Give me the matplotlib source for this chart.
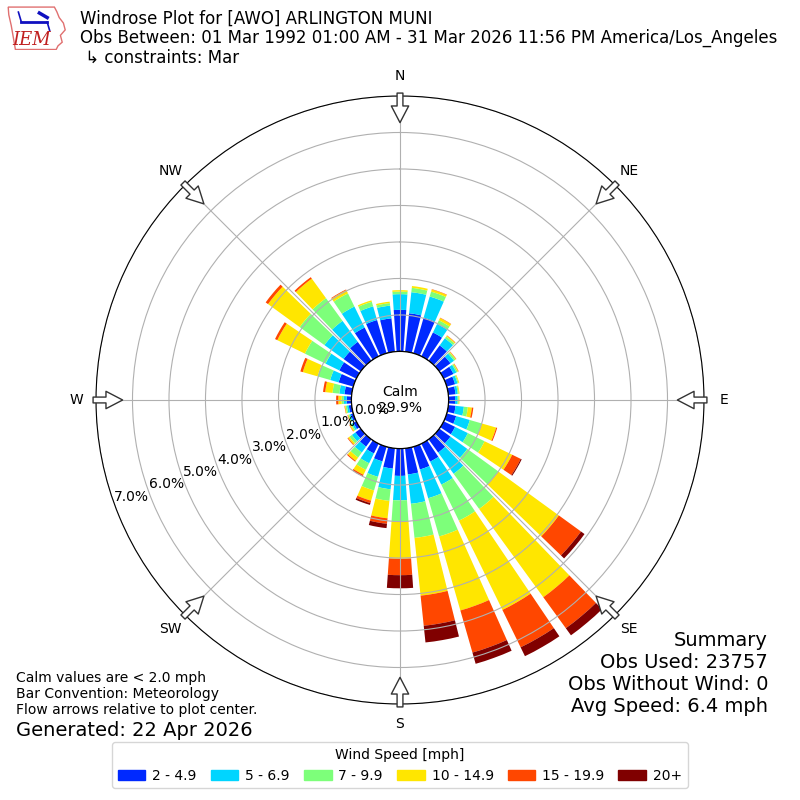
import numpy as np
import matplotlib
matplotlib.use("Agg")
import matplotlib.pyplot as plt
from matplotlib.patches import Patch, Polygon

# direction bins (degrees, meteorological convention)
directions = np.arange(0, 360, 10)
compass = ["N", "NE", "E", "SE", "S", "SW", "W", "NW"]
speed_labels = ["2 - 4.9", "5 - 6.9", "7 - 9.9", "10 - 14.9", "15 - 19.9", "20+"]

# percent of observations per direction, one list per speed bin
pct_2_5 = [1.14, 1.06, 1.02, 0.73, 0.52, 0.38, 0.30, 0.24, 0.20, 0.18,
           0.20, 0.27, 0.35, 0.38, 0.45, 0.55, 0.65, 0.72, 0.75, 0.56,
           0.42, 0.30, 0.25, 0.18, 0.09, 0.07, 0.08, 0.13, 0.20, 0.42,
           0.52, 0.58, 0.64, 0.88, 0.95, 0.92]
pct_5_7 = [0.43, 0.58, 0.60, 0.26, 0.24, 0.12, 0.09, 0.07, 0.06, 0.07,
           0.23, 0.39, 0.39, 0.57, 0.72, 0.70, 0.82, 0.81, 0.67, 0.57,
           0.44, 0.30, 0.20, 0.12, 0.05, 0.04, 0.05, 0.08, 0.14, 0.24,
           0.42, 0.65, 0.71, 0.64, 0.39, 0.35]
pct_7_10 = [0.07, 0.12, 0.14, 0.11, 0.06, 0.05, 0.04, 0.03, 0.03, 0.03,
            0.11, 0.34, 0.51, 1.05, 1.19, 1.10, 1.09, 0.94, 0.58, 0.32,
            0.39, 0.20, 0.17, 0.08, 0.04, 0.03, 0.04, 0.06, 0.19, 0.36,
            0.63, 0.84, 0.77, 0.40, 0.13, 0.07]
pct_10_15 = [0.04, 0.05, 0.06, 0.07, 0.03, 0.02, 0.02, 0.02, 0.02, 0.02,
             0.11, 0.41, 0.84, 2.05, 2.99, 2.72, 2.11, 1.59, 1.02, 0.48,
             0.29, 0.15, 0.11, 0.05, 0.03, 0.02, 0.02, 0.09, 0.20, 0.42,
             0.84, 1.07, 0.66, 0.10, 0.04, 0.04]
pct_15_20 = [0.00, 0.00, 0.01, 0.01, 0.01, 0.01, 0.01, 0.00, 0.00, 0.00,
             0.04, 0.03, 0.26, 0.75, 1.05, 1.14, 1.20, 0.83, 0.45, 0.15,
             0.07, 0.04, 0.03, 0.02, 0.01, 0.01, 0.01, 0.06, 0.06, 0.07,
             0.07, 0.08, 0.05, 0.02, 0.00, 0.00]
pct_20_up = [0.00, 0.00, 0.00, 0.00, 0.00, 0.00, 0.00, 0.00, 0.00, 0.00,
             0.00, 0.00, 0.03, 0.12, 0.24, 0.27, 0.32, 0.46, 0.36, 0.12,
             0.05, 0.01, 0.00, 0.00, 0.00, 0.00, 0.00, 0.00, 0.00, 0.00,
             0.00, 0.00, 0.00, 0.00, 0.00, 0.00]

calm_pct = 29.9
rticks = [0, 1, 2, 3, 4, 5, 6, 7]

series = [pct_2_5, pct_5_7, pct_7_10, pct_10_15, pct_15_20, pct_20_up]
colors = plt.cm.jet(np.linspace(0, 1, 7)[1:])

fig = plt.figure(figsize=(8, 8), dpi=100)
ax = fig.add_axes([0.12, 0.12, 0.76, 0.76], projection="polar")
ax.set_theta_zero_location("N")
ax.set_theta_direction(-1)

theta = np.deg2rad(directions)
width = np.deg2rad(8)
bottom = np.zeros(len(directions))
for vals, col in zip(series, colors):
    vals = np.array(vals)
    ax.bar(theta, vals, width=width, bottom=bottom, color=col, linewidth=0)
    bottom = bottom + vals

ax.set_ylim(0, 7)
ax.set_rorigin(-1.33)
ax.set_yticks(rticks)
ax.set_yticklabels([f"{v:.1f}%" for v in rticks], fontsize=10)
ax.set_rlabel_position(250)
ax.set_xticks(np.deg2rad(np.arange(0, 360, 45)))
ax.set_xticklabels([])

# calm circle edge
circ = np.linspace(0, 2 * np.pi, 300)
ax.plot(circ, np.zeros_like(circ), color="black", lw=1, zorder=5)
ax.text(0.5, 0.5, f"Calm\n{calm_pct:.1f}%", transform=ax.transAxes,
        ha="center", va="center", fontsize=10, zorder=6)

# compass labels and flow arrows
for i, lab in enumerate(compass):
    ang = np.deg2rad(i * 45)
    ax.text(ang, 7.55, lab, ha="center", va="center", fontsize=10)
    ax.annotate("", xy=(ang, 6.27), xytext=(ang, 7.08),
                arrowprops=dict(arrowstyle="simple,head_length=1.2,head_width=1.25,tail_width=0.42",
                                fc="white", ec="#333333", lw=1,
                                shrinkA=0, shrinkB=0, mutation_scale=10),
                annotation_clip=False, zorder=7)

# titles
fig.text(0.1, 1 - 10 / 800,
         "Windrose Plot for [AWO] ARLINGTON MUNI\n"
         "Obs Between: 01 Mar 1992 01:00 AM - 31 Mar 2026 11:56 PM America/Los_Angeles\n"
         " \u21b3 constraints: Mar",
         ha="left", va="top", fontsize=12, linespacing=1.08)

# logo
lax = fig.add_axes([0.008, 0.937, 0.075, 0.057])
lax.set_xlim(0, 1)
lax.set_ylim(0, 1)
lax.axis("off")
iowa_x = [0.03, 0.80, 0.84, 0.88, 0.95, 0.98, 0.90, 0.93, 0.86, 0.83, 0.15, 0.12, 0.08, 0.04]
iowa_y = [0.95, 0.95, 0.85, 0.72, 0.60, 0.45, 0.33, 0.18, 0.10, 0.02, 0.02, 0.25, 0.55, 0.78]
lax.add_patch(Polygon(np.column_stack([iowa_x, iowa_y]), closed=True,
                      fill=False, ec="#e07070", lw=1))
lax.plot([0.25, 0.68], [0.62, 0.62], color="#1010c0", lw=2)
lax.plot([0.25, 0.20], [0.62, 0.84], color="#1010c0", lw=1.2)
lax.plot([0.55, 0.68], [0.82, 0.72], color="#1010c0", lw=2.5)
lax.plot([0.68, 0.72], [0.62, 0.44], color="#1010c0", lw=1.2)
lax.text(0.42, 0.22, "IEM", color="#c02020", fontsize=13, family="serif",
         style="italic", ha="center", va="center")

# notes
fig.text(0.02, 1 - 671 / 800,
         "Calm values are < 2.0 mph\nBar Convention: Meteorology\n"
         "Flow arrows relative to plot center.",
         ha="left", va="top", fontsize=10)
fig.text(0.02, 1 - 730 / 800, "Generated: 22 Apr 2026",
         ha="left", va="center", fontsize=14)
fig.text(0.96, 1 - 631 / 800,
         "Summary\nObs Used: 23757\nObs Without Wind: 0\nAvg Speed: 6.4 mph",
         ha="right", va="top", ma="right", fontsize=14)

handles = [Patch(color=c) for c in colors]
fig.legend(handles, speed_labels, loc="lower center", bbox_to_anchor=(0.5, 0.006),
           ncol=6, title="Wind Speed [mph]", fontsize=10, title_fontsize=10,
           columnspacing=1.0, handletextpad=0.5)

fig.savefig("out.png", dpi=100)
